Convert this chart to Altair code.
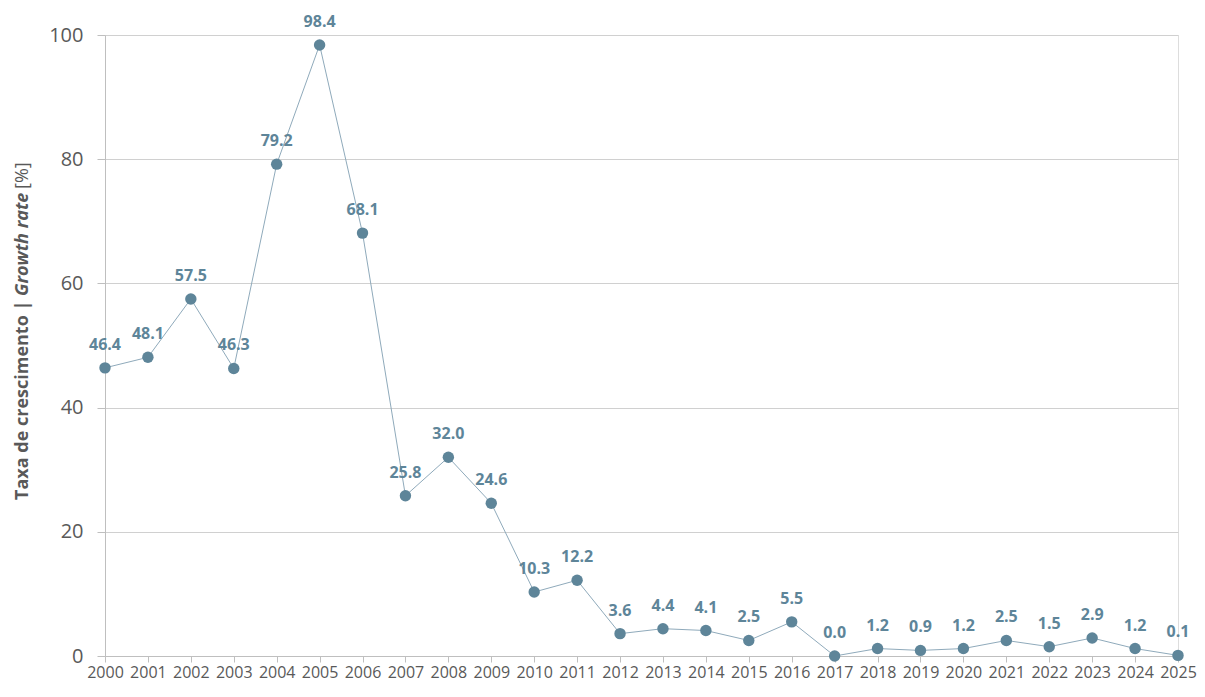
import altair as alt
import pandas as pd

years = list(range(2000, 2026))
rates = [46.4, 48.1, 57.5, 46.3, 79.2, 98.4, 68.1, 25.8, 32.0, 24.6, 10.3, 12.2, 3.6,
         4.4, 4.1, 2.5, 5.5, 0.0, 1.2, 0.9, 1.2, 2.5, 1.5, 2.9, 1.2, 0.1]
y_ticks = [0, 20, 40, 60, 80, 100]

df = pd.DataFrame({"year": years, "rate": rates})
df["label"] = [f"{v:.1f}" for v in rates]

FONT = "Open Sans"
PT = "#5E8599"
LINE = "#8FAABB"

x = alt.X("year:Q", scale=alt.Scale(domain=[2000, 2025], nice=False, zero=False),
          axis=alt.Axis(values=years, format="d", title=None, grid=False,
                        labelFontSize=16, labelColor="#595959", labelFont=FONT,
                        labelPadding=2, tickSize=6, tickColor="#BFBFBF",
                        domainColor="#BFBFBF", labelOverlap=False, labelFlush=False))
y = alt.Y("rate:Q", scale=alt.Scale(domain=[0, 100], nice=False),
          axis=alt.Axis(values=y_ticks, title=None, grid=True, gridColor="#D0D0D0",
                        labelFontSize=20, labelColor="#595959", labelFont=FONT,
                        labelPadding=14, tickSize=8, tickColor="#BFBFBF",
                        domainColor="#BFBFBF"))

base = alt.Chart(df)
line = base.mark_line(color=LINE, strokeWidth=1).encode(x=x, y=y)
pts = base.mark_circle(color=PT, opacity=1, size=130).encode(x=x, y=y)
labels = base.mark_text(color=PT, font=FONT, fontSize=16, fontWeight="bold",
                        dy=-23, baseline="middle", align="center").encode(
    x=x, y=y, text="label:N")

tdf = pd.DataFrame({"k": [0]})
t1 = alt.Chart(tdf).mark_text(text="Taxa de crescimento | ", angle=270, align="left",
                              baseline="middle", font=FONT, fontSize=18,
                              fontWeight="bold", color="#595959").encode(
    x=alt.value(-82), y=alt.value(465))
t2 = alt.Chart(tdf).mark_text(text="Growth rate", angle=270, align="left",
                              baseline="middle", font=FONT, fontSize=18,
                              fontWeight="bold", fontStyle="italic", color="#595959").encode(
    x=alt.value(-82), y=alt.value(261))
t3 = alt.Chart(tdf).mark_text(text=" [%]", angle=270, align="left",
                              baseline="middle", font=FONT, fontSize=18,
                              color="#595959").encode(
    x=alt.value(-82), y=alt.value(154))

chart = alt.layer(line, pts, labels, t1, t2, t3).properties(
    width=1073, height=621,
    autosize=alt.AutoSizeParams(type="none"),
    padding={"left": 97, "top": 27, "right": 19, "bottom": 33},
).configure_view(stroke="#C8C8C8", strokeWidth=1).configure(background="white")

chart.save("out.html", embed_options={"renderer": "svg", "actions": False})
